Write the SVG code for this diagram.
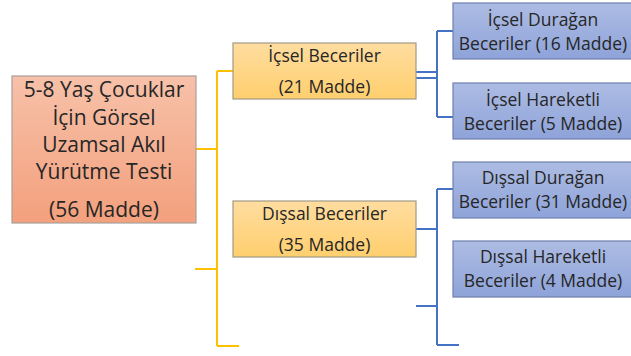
<svg xmlns="http://www.w3.org/2000/svg" width="631" height="356" viewBox="0 0 631 356">
<defs>
<linearGradient id="gRoot" x1="0" y1="0" x2="0" y2="1"><stop offset="0" stop-color="#F7C1A9"/><stop offset="1" stop-color="#F3A07D"/></linearGradient>
<linearGradient id="gMid" x1="0" y1="0" x2="0" y2="1"><stop offset="0" stop-color="#FFDDA0"/><stop offset="1" stop-color="#FFCF6E"/></linearGradient>
<linearGradient id="gLeaf" x1="0" y1="0" x2="0" y2="1"><stop offset="0" stop-color="#ADBCE3"/><stop offset="1" stop-color="#8EA3D9"/></linearGradient>
</defs>
<style>
text{font-family:"Open Sans","Noto Sans","Liberation Sans",sans-serif;fill:#262626;text-anchor:middle}
.root{fill:url(#gRoot);stroke:#A7A09C;stroke-width:1.2}
.mid{fill:url(#gMid);stroke:#A29A86;stroke-width:1.2}
.leaf{fill:url(#gLeaf);stroke:#6F7FAE;stroke-width:1.2}
.big{font-size:21px}
.sm{font-size:17.5px}
.y{stroke:#FFC000;stroke-width:2;fill:none}
.b{stroke:#4472C4;stroke-width:2;fill:none}
</style>
<g id="connectors">
<path class="y" d="M196,149H217M217,71V346M217,71H233M195,269H217M217,346H239"/>
<path class="b" d="M416,72H437M416,78H437M437,31V117M437,31H453M437,117H453"/>
<path class="b" d="M416,229H437M416,306H437M437,189V345M437,189H453M437,345H459"/>
</g>
<g id="root">
<rect class="root" x="12" y="76" width="184" height="147"/>
<text class="big" x="104" y="97">5-8 Yaş Çocuklar</text>
<text class="big" x="104" y="125">İçin Görsel</text>
<text class="big" x="104" y="152">Uzamsal Akıl</text>
<text class="big" x="104" y="179">Yürütme Testi</text>
<text class="big" x="104" y="217">(56 Madde)</text>
</g>
<g id="icsel">
<rect class="mid" x="233" y="43" width="183" height="56"/>
<text class="sm" x="324.5" y="62">İçsel Beceriler</text>
<text class="sm" x="324.5" y="93">(21 Madde)</text>
</g>
<g id="dissal">
<rect class="mid" x="233" y="201" width="183" height="56"/>
<text class="sm" x="324.5" y="220">Dışsal Beceriler</text>
<text class="sm" x="324.5" y="251">(35 Madde)</text>
</g>
<g id="icsel-duragan">
<rect class="leaf" x="453" y="3" width="180" height="56"/>
<text class="sm" x="543" y="26">İçsel Durağan</text>
<text class="sm" x="543" y="49.5">Beceriler (16 Madde)</text>
</g>
<g id="icsel-hareketli">
<rect class="leaf" x="453" y="83" width="180" height="56"/>
<text class="sm" x="543" y="106">İçsel Hareketli</text>
<text class="sm" x="543" y="129.5">Beceriler (5 Madde)</text>
</g>
<g id="dissal-duragan">
<rect class="leaf" x="453" y="162" width="180" height="56"/>
<text class="sm" x="543" y="184">Dışsal Durağan</text>
<text class="sm" x="543" y="207.5">Beceriler (31 Madde)</text>
</g>
<g id="dissal-hareketli">
<rect class="leaf" x="453" y="241" width="180" height="56"/>
<text class="sm" x="543" y="263">Dışsal Hareketli</text>
<text class="sm" x="543" y="286.5">Beceriler (4 Madde)</text>
</g>
</svg>
